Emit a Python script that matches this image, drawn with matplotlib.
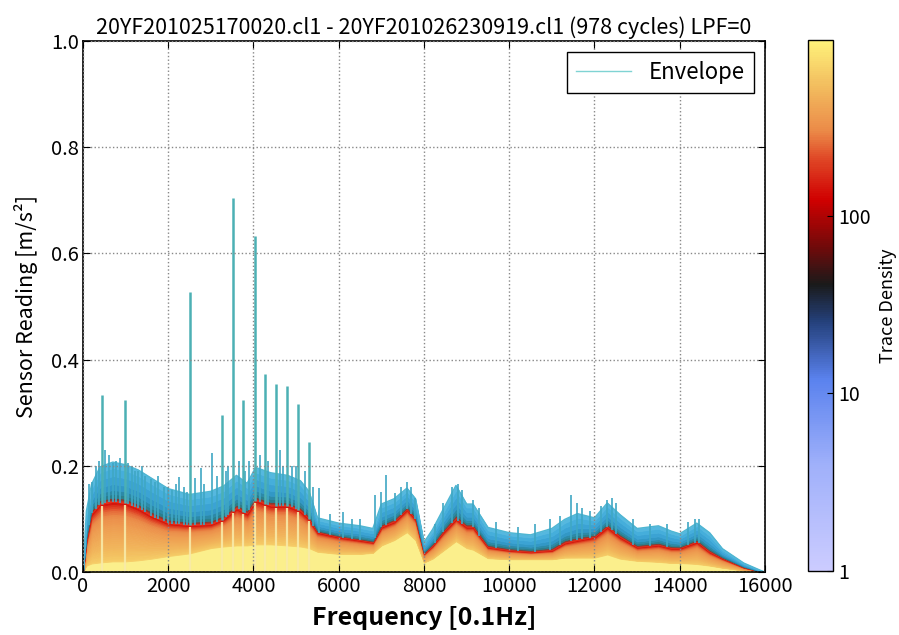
import numpy as np
import matplotlib
matplotlib.use('Agg')
import matplotlib.pyplot as plt
from matplotlib.colors import LinearSegmentedColormap, LogNorm
from matplotlib.cm import ScalarMappable

plt.rcParams['font.family'] = ['Noto Sans CJK JP', 'DejaVu Sans']

# frequency knots [0.1Hz] and levels
freq = [0, 80, 200, 400, 700, 1000, 1300, 1600, 2000, 2500, 3000, 3300, 3600, 3850,
        4050, 4400, 4800, 5100, 5300, 5500, 6000, 6500, 6800, 7000, 7300, 7600, 7800,
        8000, 8200, 8450, 8750, 9000, 9150, 9500, 10000, 10500, 11000, 11300, 11600,
        12000, 12300, 12600, 13000, 13500, 13800, 14000, 14400, 14700, 15000, 15500,
        15900, 16000]
# top of the trace cloud (envelope without the spikes)
env = [0, 0.115, 0.165, 0.198, 0.207, 0.202, 0.192, 0.177, 0.157, 0.146, 0.152, 0.162,
       0.182, 0.167, 0.197, 0.187, 0.182, 0.172, 0.152, 0.102, 0.092, 0.087, 0.082, 0.128,
       0.138, 0.158, 0.138, 0.056, 0.08, 0.118, 0.163, 0.128, 0.128, 0.084, 0.074, 0.07,
       0.082, 0.099, 0.11, 0.102, 0.13, 0.108, 0.082, 0.087, 0.077, 0.072, 0.092, 0.074,
       0.044, 0.017, 0.003, 0]
# level where density is ~100 traces (red edge)
red = [0, 0.06, 0.11, 0.128, 0.132, 0.13, 0.12, 0.106, 0.092, 0.088, 0.09, 0.10, 0.12,
       0.11, 0.135, 0.125, 0.125, 0.115, 0.10, 0.075, 0.066, 0.06, 0.056, 0.085, 0.095,
       0.118, 0.10, 0.035, 0.05, 0.075, 0.10, 0.085, 0.085, 0.047, 0.041, 0.038, 0.041,
       0.055, 0.06, 0.066, 0.085, 0.066, 0.047, 0.051, 0.045, 0.045, 0.057, 0.038, 0.026,
       0.009, 0.001, 0]
# top of the densest (yellow) part
core = [0, 0.012, 0.016, 0.018, 0.02, 0.02, 0.022, 0.025, 0.03, 0.035, 0.045, 0.048,
        0.05, 0.05, 0.052, 0.052, 0.05, 0.048, 0.045, 0.038, 0.034, 0.034, 0.036, 0.05,
        0.06, 0.075, 0.06, 0.018, 0.025, 0.04, 0.058, 0.045, 0.042, 0.026, 0.024, 0.024,
        0.024, 0.027, 0.027, 0.027, 0.033, 0.025, 0.021, 0.019, 0.017, 0.017, 0.015, 0.012,
        0.008, 0.003, 0.0, 0]

# tall envelope spikes
spike_f = [446, 985, 2510, 3261, 3519, 3754, 4035, 4270, 4528, 4786, 5044, 5300]
spike_v = [0.333, 0.324, 0.527, 0.296, 0.704, 0.324, 0.633, 0.373, 0.354, 0.350, 0.316, 0.245]

# small spikes along the top of the cloud
minor_f = [150, 220, 300, 380, 520, 620, 700, 780, 880, 1050, 1150, 1220, 1300, 1380,
           1455, 1600, 1700, 1760, 1900, 2000, 2100, 2180, 2250, 2380, 2450, 2630, 2760,
           2850, 3018, 3150, 3350, 3400, 3650, 3800, 3900, 4150, 4350, 4620, 4700, 4900,
           5000, 5200, 5400, 5535, 5800, 6100, 6300, 6500, 6850, 7000, 7110, 7320, 7450,
           7600, 7700, 7800, 8250, 8450, 8650, 8800, 8900, 9150, 9300, 9700, 10200, 10600,
           10950, 11200, 11450, 11600, 11700, 11900, 12150, 12300, 12400, 12500, 12900,
           13300, 13700, 14200, 14350, 14450]
minor_v = [0.165, 0.17, 0.2, 0.21, 0.23, 0.22, 0.205, 0.21, 0.215, 0.205, 0.2, 0.19, 0.19,
           0.2, 0.18, 0.175, 0.17, 0.18, 0.16, 0.16, 0.155, 0.165, 0.179, 0.16, 0.15, 0.177,
           0.196, 0.165, 0.224, 0.18, 0.19, 0.2, 0.21, 0.19, 0.21, 0.22, 0.21, 0.23, 0.2,
           0.2, 0.2, 0.19, 0.16, 0.158, 0.11, 0.113, 0.1, 0.1, 0.145, 0.15, 0.183, 0.148,
           0.16, 0.17, 0.16, 0.14, 0.09, 0.13, 0.16, 0.165, 0.155, 0.135, 0.12, 0.095,
           0.085, 0.09, 0.1, 0.105, 0.145, 0.13, 0.12, 0.115, 0.125, 0.135, 0.14, 0.13, 0.1,
           0.09, 0.09, 0.095, 0.1, 0.1]

n_cycles = 978

freq = np.array(freq, dtype=float)
env = np.array(env)
red = np.array(red)
core = np.array(core)

# colormap like the trace density bar
cmap = LinearSegmentedColormap.from_list('trace', [
    (0.00, '#ccccff'), (0.20, '#9fb0fa'), (0.36, '#5a82ee'), (0.47, '#24407a'),
    (0.54, '#1a1a1a'), (0.61, '#700a0a'), (0.70, '#d00000'), (0.78, '#e04a28'),
    (0.83, '#eb8a48'), (0.92, '#f3c060'), (1.00, '#fff27a')])
norm = LogNorm(1, n_cycles)

fig = plt.figure(figsize=(8.99, 6.35), dpi=100)
ax = fig.add_axes([0.0923, 0.0992, 0.7586, 0.8362])


def band(lo, hi, c):
    # edge drawn in the same colour so neighbouring bands leave no seam
    ax.fill_between(freq, lo, hi, facecolor=c, edgecolor=c, lw=0.6, zorder=1)


# yellow core
band(0, core, '#fbef8c')

# orange gradient from core up to the red edge
stops_f = [0.0, 0.25, 0.5, 0.7, 0.85, 0.93, 1.0]
stops_d = [640, 480, 400, 330, 250, 180, 115]
fr = np.linspace(0, 1, 31)
dens = np.exp(np.interp(fr, stops_f, np.log(stops_d)))
for i in range(len(fr) - 1):
    band(core + (red - core) * fr[i], core + (red - core) * fr[i + 1], cmap(norm(dens[i])))

# blue band between red edge and the top of the cloud
gap = env - red
blue_fr = [0.0, 0.06, 0.11, 0.2, 0.3, 0.45, 0.65, 0.85, 1.0]
blue_col = ['#e0301c', '#8a3a30', '#2b7f8c', '#2c8aa8', '#3298c6', '#3ba3d4',
            '#45aedb', '#55b8df']
for i in range(len(blue_col)):
    band(red + gap * blue_fr[i], red + gap * blue_fr[i + 1], blue_col[i])

# pale streaks under the big spikes
spike_base = np.interp(spike_f, freq, red)
ax.vlines(spike_f, 0, spike_base - 0.004, color='#f8eaa8', lw=1.6, alpha=0.9, zorder=1.5)

# envelope
ax.plot(freq, env, color='#4fb6d2', lw=1.0, label='Envelope', zorder=2)
minor_base = np.interp(minor_f, freq, red)
ax.vlines(minor_f, minor_base, minor_v, color='#3fa7c4', lw=1.2, zorder=2)
ax.vlines(spike_f, spike_base, spike_v, color='#4cb0b4', lw=1.8, zorder=2)

ax.set_xlim(0, 16000)
ax.set_ylim(0, 1.0)
ax.set_xticks(np.arange(0, 16001, 2000))
ax.set_yticks(np.arange(0, 1.01, 0.2))
ax.set_axisbelow(False)
ax.grid(True, linestyle=':', color='#888888', lw=1)
ax.tick_params(direction='in', top=True, right=True, length=5, labelsize=14.5, pad=3)
for s in ax.spines.values():
    s.set_linewidth(1.2)

ax.set_title('20YF201025170020.cl1 - 20YF201026230919.cl1 (978 cycles) LPF=0',
             fontsize=15.5, pad=5)
ax.set_ylabel('Sensor Reading [m/s²]', fontsize=15.5, labelpad=9)
ax.set_xlabel('Frequency [0.1Hz]', fontsize=18, fontweight='bold', labelpad=6)

leg = ax.legend(loc='upper right', fontsize=16, fancybox=False, framealpha=1,
                edgecolor='black', handlelength=2.5, borderpad=0.4, borderaxespad=0.5)
leg.get_lines()[0].set_color('#7fd3d3')
leg.get_frame().set_linewidth(1.0)

cax = fig.add_axes([0.8988, 0.1008, 0.0278, 0.8362])
cb = fig.colorbar(ScalarMappable(norm=norm, cmap=cmap), cax=cax)
cb.set_ticks([1, 10, 100])
cb.set_ticklabels(['1', '10', '100'])
cb.ax.minorticks_off()
cb.ax.tick_params(labelsize=14, direction='in', length=4)
cb.outline.set_linewidth(1.0)
cb.set_label('Trace Density', fontsize=13, labelpad=6)

fig.savefig('out.png', dpi=100)
